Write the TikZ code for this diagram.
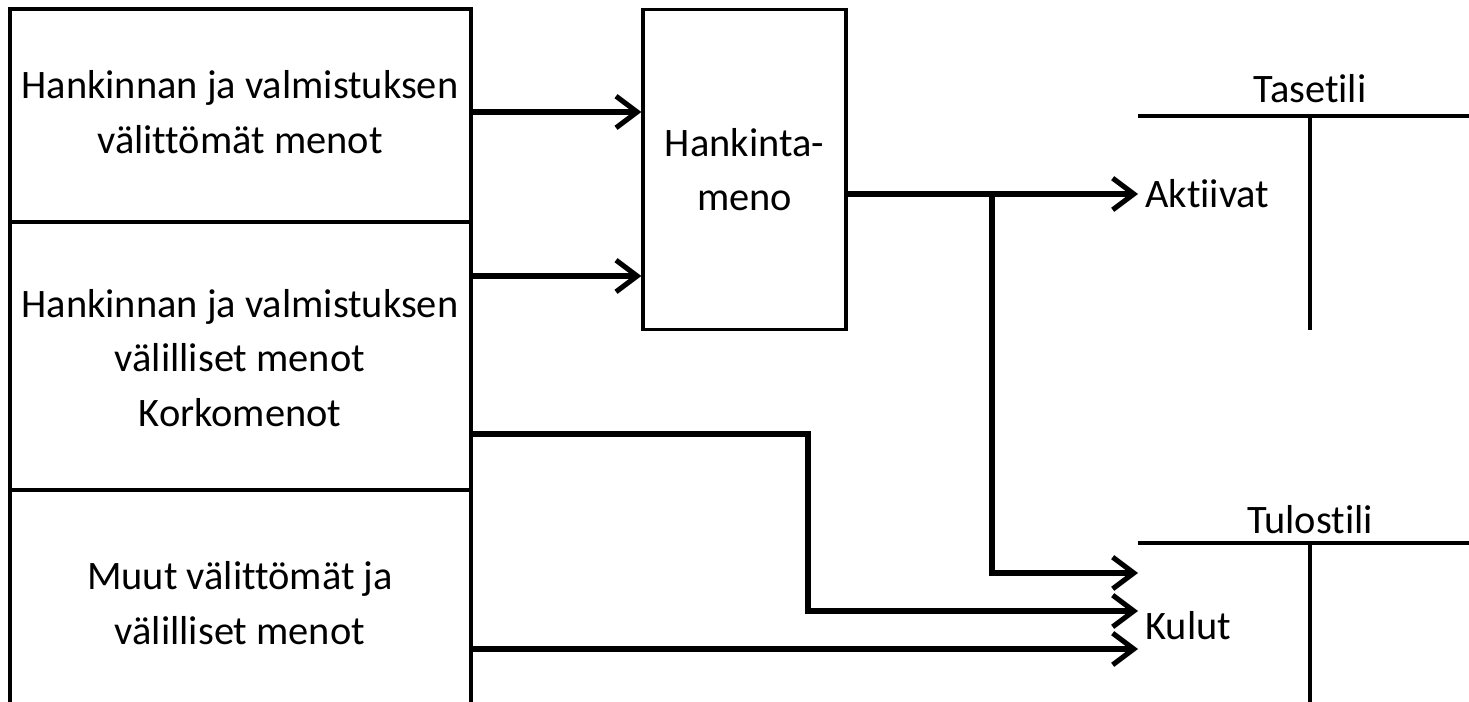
\documentclass[tikz,border=0pt]{standalone}
\usepackage{fontspec}
\setmainfont[Ligatures=NoCommon]{Carlito}
\usetikzlibrary{arrows.meta}

\begin{document}
\begin{tikzpicture}[x=0.02cm,y=-0.02cm]
	\tikzset{>={Straight Barb[length=12pt,width=18pt]}}
	\tikzset{frame/.style={line width=1.9pt},
		flow/.style={line width=2.9pt,->},
		txt/.style={font=\fontsize{23}{31}\selectfont,align=center,inner sep=0pt}}
	\useasboundingbox (0,0) rectangle (1469,702);
	% the cost groups on the left
	\draw[frame] (10,702) -- (10,9) -- (471,9) -- (471,702);
	\draw[frame] (10,222) -- (471,222);
	\draw[frame] (10,490) -- (471,490);
	\node[txt] (direct) at (240,112) {Hankinnan ja valmistuksen\\välittömät menot};
	\node[txt] (indirect) at (240,358) {Hankinnan ja valmistuksen\\välilliset menot\\Korkomenot};
	\node[txt] (other) at (240,603) {Muut välittömät ja\\välilliset menot};
	\coordinate (o1) at (471,112);
	\coordinate (o2) at (471,276);
	\coordinate (o3) at (471,434);
	\coordinate (o4) at (471,649);
	% acquisition cost
	\node[txt,draw,line width=1.9pt,minimum width=203*0.02cm,minimum height=320*0.02cm] (hm) at (744.5,169.5) {Hankinta-\\meno};
	\coordinate (h) at (846,194);
	\coordinate (j) at (992,194);
	% the two accounts
	\node[txt,anchor=base] (tase) at (1310,103) {Tasetili};
	\draw[frame] (1138,116) -- (1469,116);
	\draw[frame] (1310,116) -- (1310,330);
	\node[txt,anchor=base] (tulos) at (1310,533) {Tulostili};
	\draw[frame] (1138,543) -- (1469,543);
	\draw[frame] (1310,543) -- (1310,702);
	\node[txt,anchor=west,inner sep=4pt] (akt) at (1138,194) {Aktiivat};
	\node[txt,anchor=west,inner sep=4pt] (kul) at (1138,626) {Kulut};
	% flows
	\draw[flow] (o1) -- (o1 -| hm.west);
	\draw[flow] (o2) -- (o2 -| hm.west);
	\draw[flow] (h) -- (akt.west);
	\draw[flow] (j) |- (kul.west |- 0,573);
	\draw[flow] (o3) -| (808,611) -- (kul.west |- 0,611);
	\draw[flow] (o4) -- (kul.west |- o4);
\end{tikzpicture}
\end{document}
